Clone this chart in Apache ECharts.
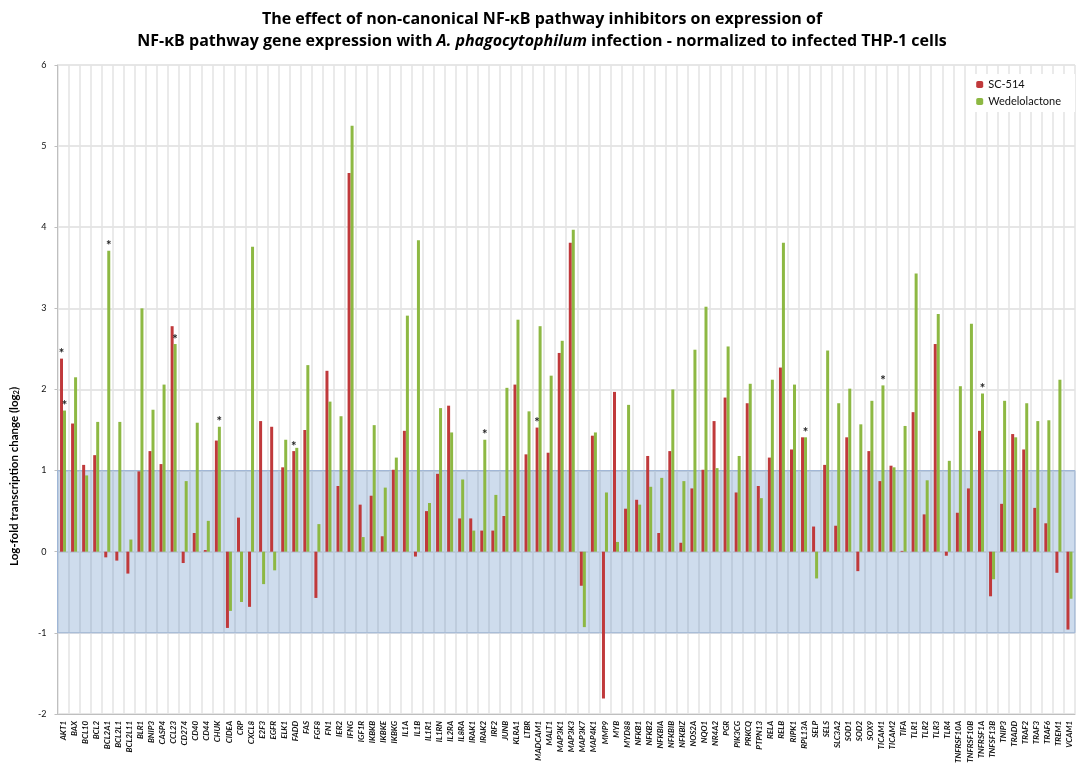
<!DOCTYPE html>
<html lang="en">
<head>
	<meta charset="UTF-8">
	<title>NF-kB inhibitors</title>
	<script src="https://cdn.jsdelivr.net/npm/echarts@6.0.0/dist/echarts.min.js"></script>
	<style>
		html, body { margin: 0; padding: 0; background: #fff; }
	</style>
</head>
<body>
	<div id="main" style="width: 1084px;height:766px;"></div>
<script type="text/javascript">
	var genes = ['AKT1','BAX','BCL10','BCL2','BCL2A1','BCL2L1','BCL2L11','BLR1','BNIP3','CASP4','CCL23','CD274','CD40','CD44','CHUK','CIDEA','CRP','CXCL8','E2F3','EGFR','ELK1','FADD','FAS',
		'FGF8','FN1','IER2','IFNG','IGF1R','IKBKB','IKBKE','IKBKG','IL1A','IL1B','IL1R1','IL1RN','IL2RA','IL8RA','IRAK1','IRAK2','IRF2','JUNB','KLRA1','LTBR','MADCAM1','MALT1','MAP3K1',
		'MAP3K3','MAP3K7','MAP4K1','MMP9','MYB','MYD88','NFKB1','NFKB2','NFKBIA','NFKBIB','NFKBIZ','NOS2A','NQO1','NR4A2','PGR','PIK3CG','PRKCQ','PTPN13','RELA','RELB','RIPK1','RPL13A','SELP',
		'SELS','SLC3A2','SOD1','SOD2','SOX9','TICAM1','TICAM2','TIFA','TLR1','TLR2','TLR3','TLR4','TNFRSF10A','TNFRSF10B','TNFRSF1A','TNFSF13B','TNIP3','TRADD','TRAF2','TRAF3','TRAF6','TREM1','VCAM1'];

	// SC-514
	var sc514 = [2.38,1.58,1.07,1.19,-0.07,-0.11,-0.27,0.99,1.24,1.08,2.78,-0.14,0.23,0.02,1.37,-0.94,0.42,-0.68,1.61,1.54,1.04,1.24,1.50,
		-0.57,2.23,0.81,4.67,0.58,0.69,0.19,1.01,1.49,-0.06,0.50,0.96,1.80,0.41,0.41,0.26,0.26,0.44,2.06,1.20,1.53,1.22,2.45,
		3.81,-0.42,1.43,-1.81,1.97,0.53,0.64,1.18,0.23,1.24,0.11,0.78,1.01,1.61,1.90,0.73,1.83,0.81,1.16,2.27,1.26,1.41,0.31,
		1.07,0.32,1.41,-0.24,1.24,0.87,1.06,0.01,1.72,0.46,2.56,-0.05,0.48,0.78,1.49,-0.55,0.59,1.45,1.26,0.54,0.35,-0.26,-0.96];

	// Wedelolactone
	var wedelo = [1.74,2.15,0.94,1.60,3.71,1.60,0.15,3.00,1.75,2.06,2.56,0.87,1.59,0.38,1.54,-0.73,-0.62,3.76,-0.40,-0.23,1.38,1.28,2.30,
		0.34,1.85,1.67,5.25,0.18,1.56,0.79,1.16,2.91,3.84,0.60,1.77,1.47,0.89,0.26,1.38,0.70,2.02,2.86,1.73,2.78,2.17,2.60,
		3.97,-0.93,1.47,0.73,0.12,1.81,0.58,0.80,0.91,2.00,0.87,2.49,3.02,1.03,2.53,1.18,2.07,0.66,2.12,3.81,2.06,1.41,-0.33,
		2.48,1.83,2.01,1.57,1.86,2.05,1.04,1.55,3.43,0.88,2.93,1.12,2.04,2.81,1.95,-0.34,1.86,1.41,1.83,1.61,1.62,2.12,-0.58];

	// significance marks (*)
	var starsRed = ['AKT1','FADD','MADCAM1'];
	var starsGreen = ['AKT1','BCL2A1','CCL23','CHUK','IRAK2','RPL13A','TICAM1','TNFRSF1A'];

	var bandLow = -1, bandHigh = 1;

	function withStars(vals, stars) {
		return vals.map(function(v, i) {
			if (stars.indexOf(genes[i]) >= 0) return { value: v, label: { show: true } };
			return v;
		});
	}

	var starLabel = {
		show: false,
		position: 'top',
		distance: -2,
		formatter: '*',
		fontSize: 13,
		fontWeight: 'bold',
		color: '#222'
	};

	var myChart = echarts.init(document.getElementById('main'));
	myChart.setOption({
		animation: false,
		textStyle: { fontFamily: 'Lato, "Open Sans", sans-serif' },
		title: {
			text: 'The effect of non-canonical NF-κB pathway inhibitors on expression of\nNF-κB pathway gene expression with {i|A. phagocytophilum} infection - normalized to infected THP-1 cells',
			left: 'center',
			top: 3,
			textStyle: {
				fontFamily: '"Open Sans", sans-serif',
				fontSize: 16,
				fontWeight: 'bold',
				color: '#000',
				lineHeight: 22,
				rich: {
					i: { fontFamily: '"Open Sans", sans-serif', fontSize: 16, fontWeight: 'bold', fontStyle: 'italic', color: '#000', lineHeight: 22 }
				}
			}
		},
		legend: {
			orient: 'vertical',
			right: 9,
			top: 74,
			data: ['SC-514', 'Wedelolactone'],
			itemWidth: 7,
			itemHeight: 7,
			itemGap: 6,
			padding: [5, 14, 5, 10],
			backgroundColor: '#fff',
			textStyle: { fontSize: 11, color: '#111' }
		},
		grid: {
			left: 52,
			right: 9,
			top: 65,
			bottom: 49
		},
		xAxis: {
			type: 'category',
			data: genes,
			position: 'bottom',
			axisLine: { onZero: false, lineStyle: { color: '#bfbfbf' } },
			axisTick: { show: false },
			splitLine: { show: true, lineStyle: { color: '#e3e3e3', width: 1.5 } },
			axisLabel: {
				interval: 0,
				rotate: 90,
				fontSize: 8,
				fontWeight: 'bold',
				fontStyle: 'italic',
				color: '#111',
				margin: 7
			}
		},
		yAxis: {
			type: 'value',
			min: -2,
			max: 6,
			interval: 1,
			name: 'Log-fold transcription change (log{s|2})',
			nameLocation: 'middle',
			nameGap: 37,
			nameTextStyle: {
				fontSize: 11.5,
				fontWeight: 'bold',
				color: '#000',
				padding: [0, 174, 0, 0],
				rich: { s: { fontSize: 7.5, fontWeight: 'bold', color: '#000', padding: [5, 0, 0, 0] } }
			},
			axisLine: { show: true, lineStyle: { color: '#bfbfbf' } },
			axisTick: { show: true, length: 3, lineStyle: { color: '#bfbfbf' } },
			splitLine: { lineStyle: { color: '#dedede', width: 1.5 } },
			axisLabel: { fontSize: 9, color: '#111', margin: 11 }
		},
		series: [
			{
				name: 'SC-514',
				type: 'bar',
				barWidth: 3,
				barGap: '0%',
				itemStyle: { color: '#c0393b' },
				label: starLabel,
				data: withStars(sc514, starsRed)
			},
			{
				name: 'Wedelolactone',
				type: 'bar',
				barWidth: 3,
				itemStyle: { color: '#8db843' },
				label: starLabel,
				data: withStars(wedelo, starsGreen)
			},
			{
				name: 'band',
				type: 'line',
				data: [],
				z: 5,
				silent: true,
				markArea: {
					silent: true,
					itemStyle: {
						color: 'rgba(79,129,189,0.28)',
						borderColor: '#9fb6d6',
						borderWidth: 1
					},
					data: [[{ yAxis: bandLow }, { yAxis: bandHigh }]]
				}
			}
		]
	});
</script>
</body>
</html>
